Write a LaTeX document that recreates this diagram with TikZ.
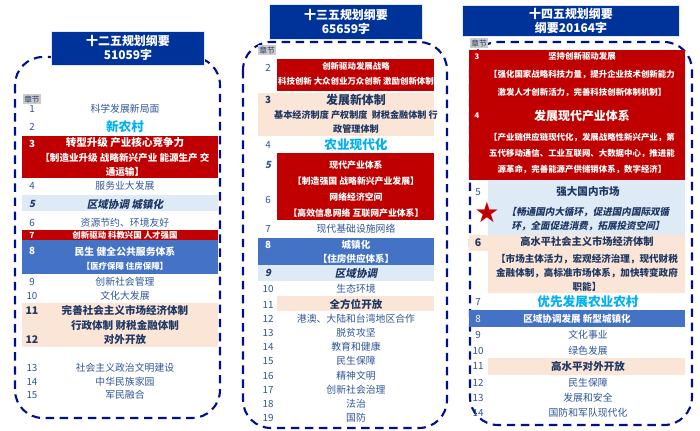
\documentclass[tikz,border=0pt]{standalone}
\usepackage{fontspec}
\setmainfont{Noto Sans CJK SC}[ItalicFont={Noto Sans CJK SC}, ItalicFeatures={FakeSlant=0.2},
  BoldItalicFeatures={FakeSlant=0.2}]
\usepackage{tikz}
\usetikzlibrary{positioning}
\definecolor{hdrblue}{HTML}{003399}
\definecolor{navy}{HTML}{000F8C}
\definecolor{txtblue}{HTML}{2F5597}
\definecolor{deepblue}{HTML}{1F3864}
\definecolor{planred}{HTML}{C00000}
\definecolor{midblue}{HTML}{4472C4}
\definecolor{paleblue}{HTML}{DEEBF7}
\definecolor{palepink}{HTML}{FBE5D6}
\definecolor{skycyan}{HTML}{00B0F0}

\begin{document}
\begin{tikzpicture}[x=0.025cm, y=-0.025cm,
			header/.style={rectangle, draw=paleblue, fill=hdrblue, text=white, font=\bfseries\fontsize{8.5}{10}\selectfont,
					align=center, inner sep=0pt},
			outline/.style={draw=navy, line width=1.5pt, dash pattern=on 6pt off 4pt, rounded corners=0.7cm},
			chap/.style={fill=black!20, text=deepblue, font=\fontsize{5.5}{6}\selectfont, inner sep=1pt},
			num/.style={text=txtblue, font=\fontsize{7}{8}\selectfont},
			item/.style={text=txtblue, font=\fontsize{7}{8}\selectfont},
			white/.style={text=white, font=\bfseries\fontsize{6.5}{8}\selectfont, align=center},
			strong/.style={text=deepblue, font=\bfseries\fontsize{7.5}{9}\selectfont, align=center},
			green/.style={text=skycyan, font=\bfseries\fontsize{9}{10}\selectfont}]
		\useasboundingbox (0,0) rectangle (700,430);

		% Outlines
		\draw [outline] (15,57) rectangle (220,418);
		\draw [outline] (243,42) rectangle (447,428);
		\draw [outline] (470,42) rectangle (692,425);

		% Colour bands
		\fill [planred] (22,136) rectangle (218,178);
		\fill [paleblue] (22,195) rectangle (218,211);
		\fill [planred] (22,230) rectangle (218,240);
		\fill [midblue] (22,240) rectangle (218,274);
		\fill [palepink] (22,303) rectangle (218,347);
		\fill [planred] (277,59) rectangle (434,91);
		\fill [palepink] (258,93) rectangle (434,136);
		\fill [planred] (277,153) rectangle (434,220);
		\fill [midblue] (258,238) rectangle (434,265);
		\fill [paleblue] (258,265) rectangle (434,281);
		\fill [palepink] (277,296) rectangle (434,311);
		\fill [planred] (469,50) rectangle (685,180);
		\fill [paleblue] (488,180) rectangle (685,235);
		\fill [palepink] (469,235) rectangle (685,251);
		\fill [palepink] (488,235) rectangle (685,293);
		\fill [palepink] (488,358) rectangle (685,375);
		\fill [midblue] (469,310) rectangle (685,327);

		% Headers
		\node [header, minimum width=153*0.025cm, minimum height=34*0.025cm] (h12) at (128,48) {十二五规划纲要\\51059字};
		\node [header, minimum width=153*0.025cm, minimum height=35*0.025cm] (h13) at (346,22) {十三五规划纲要\\65659字};
		\node [header, minimum width=217*0.025cm, minimum height=31*0.025cm] (h14) at (571,21) {十四五规划纲要\\纲要20164字};
		\node [chap] (c12) at (32,99) {章节};
		\node [chap] (c13) at (267,50) {章节};
		\node [chap] (c14) at (479,43) {章节};

		% Twelfth plan
		\foreach \i/\y in {1/109, 2/127, 4/186, 6/223, 9/282, 10/296, 13/368, 14/382, 15/395}
			\node [num] (a\i) at (32,\y) {\i};
		\node [num, text=white, font=\bfseries\fontsize{7}{8}\selectfont] (a3) at (32,144) {3};
		\node [num, font=\bfseries\itshape\fontsize{7}{8}\selectfont, text=deepblue] (a5) at (32,204) {5};
		\node [num, text=white, font=\bfseries\fontsize{6}{7}\selectfont] (a7) at (32,235) {7};
		\node [num, text=white, font=\bfseries\fontsize{7}{8}\selectfont] (a8) at (32,251) {8};
		\node [num, font=\bfseries\fontsize{7.5}{8}\selectfont, text=deepblue] (a11) at (32,311) {11};
		\node [num, font=\bfseries\fontsize{7.5}{8}\selectfont, text=deepblue] (a12) at (32,340) {12};
		\foreach \n/\y/\t in {t1/109/科学发展新局面, t4/186/服务业大发展, t6/223/资源节约、环境友好, t9/282/创新社会管理,
				t10/296/文化大发展, t13/368/社会主义政治文明建设, t14/382/中华民族家园, t15/395/军民融合}
			\node [item] (a\n) at (125,\y) {\t};
		\node [green] (at2) at (125,127) {新农村};
		\node [white, font=\bfseries\fontsize{7.5}{10}\selectfont] (at3) at (125,157) {转型升级 产业核心竞争力\\
			{\fontsize{6.8}{10}\selectfont【制造业升级 战略新兴产业 能源生产 交}\\{\fontsize{6.8}{10}\selectfont 通运输】}};
		\node [strong, font=\bfseries\itshape\fontsize{7.5}{9}\selectfont] (at5) at (125,204) {区域协调 城镇化};
		\node [white, font=\bfseries\fontsize{6}{7}\selectfont] (at7) at (125,235) {创新驱动 科教兴国 人才强国};
		\node [white, font=\bfseries\fontsize{7}{10}\selectfont] (at8) at (125,259) {民生 健全公共服务体系\\{\fontsize{6}{10}\selectfont【医疗保障 住房保障】}};
		\node [strong, font=\bfseries\fontsize{7.5}{10.3}\selectfont] (at11) at (125,325) {完善社会主义市场经济体制\\行政体制 财税金融体制\\对外开放};

		% Thirteenth plan
		\foreach \i/\y in {2/68, 4/145, 6/200, 7/229, 10/289, 11/305, 12/319, 13/333, 14/347, 15/361, 16/376, 17/390, 18/404, 19/418}
			\node [num] (b\i) at (268,\y) {\i};
		\node [num, font=\bfseries\fontsize{7}{8}\selectfont, text=deepblue] (b3) at (268,100) {3};
		\node [num, font=\bfseries\itshape\fontsize{7}{8}\selectfont] (b5) at (268,165) {5};
		\node [num, text=white, font=\bfseries\fontsize{7}{8}\selectfont] (b8) at (268,245) {8};
		\node [num, font=\bfseries\itshape\fontsize{7}{8}\selectfont, text=deepblue] (b9) at (268,273) {9};
		\foreach \n/\y/\t in {t7/229/现代基础设施网络, t10/289/生态环境, t12/319/港澳、大陆和台湾地区合作, t13/333/脱贫攻坚,
				t14/347/教育和健康, t15/361/民生保障, t16/376/精神文明, t17/390/创新社会治理, t18/404/法治, t19/418/国防}
			\node [item] (b\n) at (356,\y) {\t};
		\node [white, font=\bfseries\fontsize{6}{10.7}\selectfont] (bt2) at (356,74) {创新驱动发展战略\\科技创新 大众创业万众创新 激励创新体制};
		\node [strong, font=\bfseries\fontsize{6.5}{10}\selectfont] (bt3) at (356,114) {{\fontsize{8.5}{10}\selectfont 发展新体制}\\
			基本经济制度 产权制度\ \ 财税金融体制 行\\政管理体制};
		\node [green] (bt4) at (356,145) {农业现代化};
		\node [white, font=\bfseries\fontsize{6.3}{11.5}\selectfont] (bt5) at (356,189) {现代产业体系\\【制造强国 战略新兴产业发展】\\
			网络经济空间\\【高效信息网络 互联网产业体系】};
		\node [white, font=\bfseries\fontsize{6.8}{10}\selectfont] (bt8) at (356,252) {城镇化\\【住房供应体系】};
		\node [strong, font=\bfseries\itshape\fontsize{7.5}{9}\selectfont] (bt9) at (356,273) {区域协调};
		\node [strong] (bt11) at (356,304) {全方位开放};

		% Fourteenth plan
		\foreach \i/\y in {7/302, 9/335, 10/351, 11/366, 12/383, 13/398, 14/413}
			\node [num] (c\i) at (478,\y) {\i};
		\node [num, text=white, font=\bfseries\fontsize{5.5}{6}\selectfont] (c3) at (477,57) {3};
		\node [num, text=white, font=\bfseries\fontsize{5.5}{6}\selectfont] (c4) at (477,116) {4};
		\node [num] (c5) at (478,192) {5};
		\node [num, font=\bfseries\fontsize{7.5}{8}\selectfont, text=deepblue] (c6) at (478,243) {6};
		\node [num, text=white] (c8) at (478,319) {8};
		\foreach \n/\y/\t in {t9/335/文化事业, t10/351/绿色发展, t12/383/民生保障, t13/398/发展和安全, t14/413/国防和军队现代化}
			\node [item] (c\n) at (588,\y) {\t};
		\node [white, font=\bfseries\fontsize{6}{12.8}\selectfont] (ct3) at (582,75) {坚持创新驱动发展\\
			【强化国家战略科技力量，提升企业技术创新能力\\激发人才创新活力，完善科技创新体制机制】};
		\node [white, font=\bfseries\fontsize{6}{11.3}\selectfont] (ct4) at (582,142) {{\fontsize{8.5}{10}\selectfont 发展现代产业体系}\\[3pt]
			【产业链供应链现代化，发展战略性新兴产业，第\\五代移动通信、工业互联网、大数据中心，推进能\\源革命，完善能源产供储销体系，数字经济】};
		\node [strong, font=\bfseries\fontsize{6.8}{10}\selectfont] (ct5) at (588,209) {{\fontsize{7.5}{10}\selectfont 强大国内市场}\\[4pt]
			\itshape 【畅通国内大循环，促进国内国际双循\\\itshape 环，全面促进消费，拓展投资空间】};
		\node [text=planred, font=\fontsize{20}{20}\selectfont, inner sep=0pt] (star) at (487,212) {\fontspec{DejaVu Sans}★};
		\node [strong, font=\bfseries\fontsize{6.8}{10}\selectfont] (ct6) at (587,264) {{\fontsize{7.3}{10}\selectfont 高水平社会主义市场经济体制}\\[2pt]
			【市场主体活力，宏观经济治理，现代财税\\金融体制，高标准市场体系，加快转变政府\\职能】};
		\node [green] (ct7) at (588,302) {优先发展农业农村};
		\node [white, font=\bfseries\fontsize{6.8}{8}\selectfont] (ct8) at (577,319) {区域协调发展 新型城镇化};
		\node [strong] (ct11) at (588,366) {高水平对外开放};
	\end{tikzpicture}
\end{document}
